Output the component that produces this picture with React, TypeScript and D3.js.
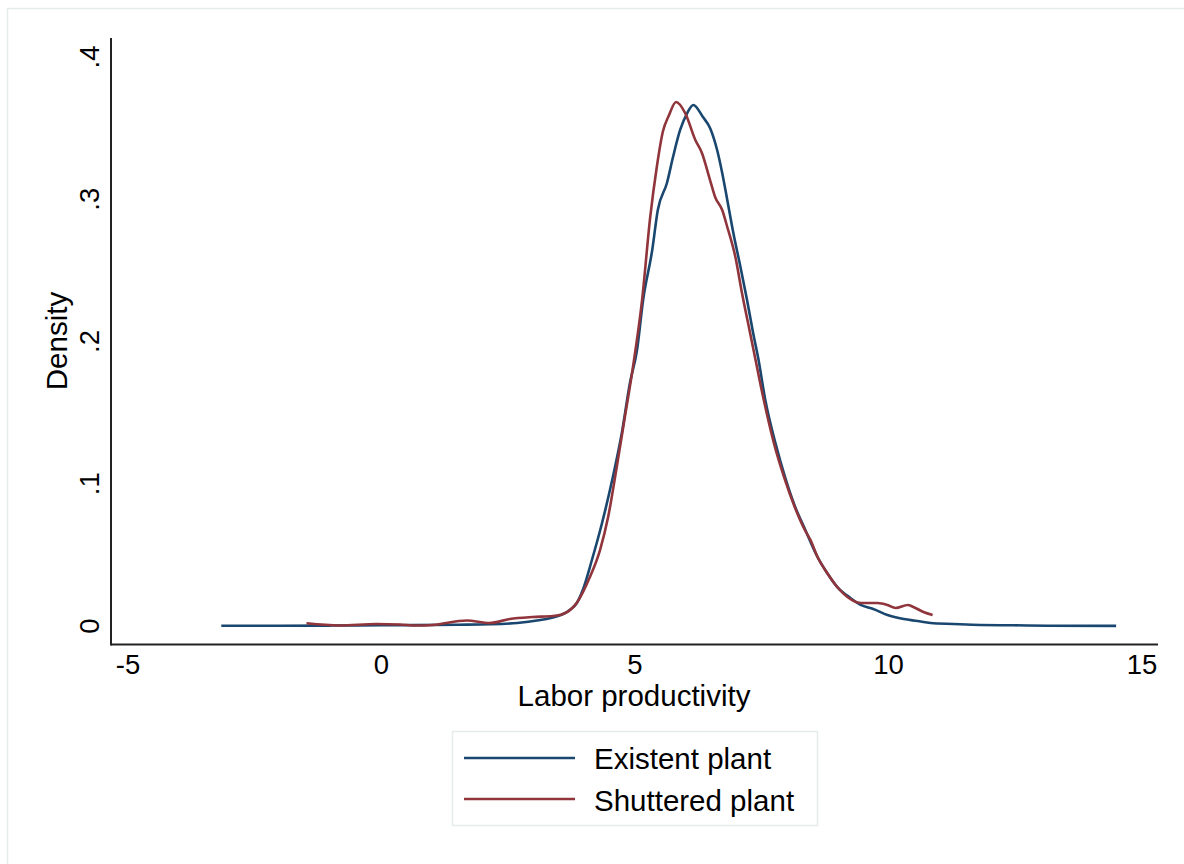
import React from "react";
import * as d3 from "d3";

const xTicks = [-5, 0, 5, 10, 15];
const yTicks = [0, 0.1, 0.2, 0.3, 0.4];
const yTickLabels = ["0", ".1", ".2", ".3", ".4"];
const seriesNames = ["Existent plant", "Shuttered plant"];
const seriesColors = ["#1a476f", "#90353b"];

const existent: [number, number][] = [
  [-3.16, 0.0002], [-2.0, 0.0002], [-1.0, 0.0003], [0.0, 0.0005], [0.6, 0.0006],
  [1.5, 0.0009], [2.14, 0.0012], [2.68, 0.0021], [3.1, 0.004], [3.34, 0.0056],
  [3.55, 0.0078], [3.72, 0.0115], [3.85, 0.016], [3.97, 0.0253], [4.15, 0.0464],
  [4.35, 0.0724], [4.55, 0.1026], [4.74, 0.1357], [4.9, 0.1708], [5.04, 0.194],
  [5.16, 0.2292], [5.34, 0.2643], [5.45, 0.2924], [5.63, 0.3114], [5.75, 0.3297],
  [5.89, 0.3487], [6.03, 0.3606], [6.15, 0.3663], [6.34, 0.3578], [6.48, 0.3501],
  [6.62, 0.3346], [6.72, 0.3185], [6.82, 0.2995], [6.94, 0.2763], [7.08, 0.2524],
  [7.21, 0.2292], [7.33, 0.206], [7.43, 0.1884], [7.57, 0.1589], [7.77, 0.1286],
  [7.96, 0.1047], [8.16, 0.0837], [8.36, 0.0675], [8.6, 0.0485], [8.79, 0.0373],
  [8.99, 0.0274], [9.25, 0.0197], [9.45, 0.0148], [9.7, 0.012], [9.98, 0.0077],
  [10.3, 0.0049], [10.57, 0.0035], [10.83, 0.0021], [11.28, 0.0014], [11.82, 0.0007],
  [12.47, 0.0005], [13.14, 0.0002], [14.49, 0.0001],
];

const shuttered: [number, number][] = [
  [-1.48, 0.0019], [-0.83, 0.0004], [-0.1, 0.0014], [0.36, 0.0011], [0.69, 0.0003],
  [1.01, 0.0007], [1.68, 0.0039], [2.13, 0.0021], [2.53, 0.0049], [2.98, 0.0063],
  [3.38, 0.007], [3.66, 0.0098], [3.85, 0.0162], [4.11, 0.0344], [4.31, 0.0534],
  [4.47, 0.0766], [4.64, 0.1118], [4.8, 0.1469], [4.96, 0.1821], [5.14, 0.2292],
  [5.3, 0.2875], [5.43, 0.3227], [5.55, 0.3476], [5.67, 0.3591], [5.81, 0.3684],
  [5.99, 0.3606], [6.19, 0.3417], [6.32, 0.3325], [6.48, 0.3135], [6.58, 0.3016],
  [6.72, 0.2924], [6.82, 0.2805], [6.98, 0.2594], [7.11, 0.2341], [7.27, 0.206],
  [7.37, 0.1884], [7.54, 0.1589], [7.74, 0.1286], [7.94, 0.1047], [8.15, 0.0837],
  [8.35, 0.0675], [8.46, 0.0605], [8.6, 0.0485], [8.79, 0.0373], [8.99, 0.0274],
  [9.19, 0.0204], [9.45, 0.0162], [9.78, 0.0162], [9.98, 0.0148], [10.14, 0.0127],
  [10.38, 0.0148], [10.49, 0.0134], [10.69, 0.0098], [10.87, 0.0077],
];

const seriesData = [existent, shuttered];

export default function App() {
  const W = 1184;
  const H = 864;
  const x = d3.scaleLinear().domain([-5, 15]).range([128, 1142]);
  const y = d3.scaleLinear().domain([0, 0.4]).range([626, 57]);
  const line = d3
    .line<[number, number]>()
    .x((d) => x(d[0]))
    .y((d) => y(d[1]))
    .curve(d3.curveMonotoneX);

  const font = "'Liberation Sans', Arial, Helvetica, sans-serif";
  const axisLeft = 111;
  const axisBottom = 644.5;

  return (
    <svg
      width={W}
      height={H}
      style={{ position: "absolute", left: 0, top: 0, background: "#fff" }}
      fontFamily={font}
    >
      <rect x={0} y={0} width={W} height={H} fill="#fff" />
      <rect x={7.5} y={8.5} width={W + 10} height={H + 10} fill="#fff" stroke="#e6ecec" strokeWidth={1.5} />

      {/* axes */}
      <line x1={axisLeft} x2={axisLeft} y1={38} y2={axisBottom + 1} stroke="#222" strokeWidth={2} />
      <line x1={axisLeft} x2={1158} y1={axisBottom} y2={axisBottom} stroke="#222" strokeWidth={2} />

      {/* x tick labels */}
      {xTicks.map((t) => (
        <text key={"x" + t} x={x(t)} y={674} fontSize={27.5} textAnchor="middle" fill="#000">
          {t}
        </text>
      ))}
      <text x={634} y={706} fontSize={29.5} textAnchor="middle" fill="#000">
        Labor productivity
      </text>

      {/* y tick labels */}
      {yTicks.map((t, i) => (
        <text
          key={"y" + t}
          transform={`translate(99,${y(t)}) rotate(-90)`}
          fontSize={27.5}
          textAnchor="middle"
          fill="#000"
        >
          {yTickLabels[i]}
        </text>
      ))}
      <text transform={`translate(67,341) rotate(-90)`} fontSize={29.5} textAnchor="middle" fill="#000">
        Density
      </text>

      {/* curves */}
      {seriesData.map((s, i) => (
        <path key={"s" + i} d={line(s) || ""} fill="none" stroke={seriesColors[i]} strokeWidth={2.6} strokeLinejoin="round" />
      ))}

      {/* legend */}
      <rect x={452.5} y={731.5} width={365} height={94} fill="#fff" stroke="#e6ecec" strokeWidth={1.5} />
      {seriesNames.map((n, i) => (
        <g key={"l" + i}>
          <line x1={464} x2={575} y1={758 + i * 41} y2={758 + i * 41} stroke={seriesColors[i]} strokeWidth={2.6} />
          <text x={594} y={769 + i * 42} fontSize={29.5} fill="#000">
            {n}
          </text>
        </g>
      ))}
    </svg>
  );
}
